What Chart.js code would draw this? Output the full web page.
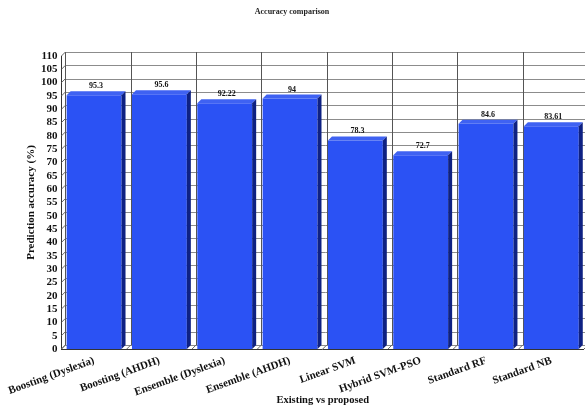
<!DOCTYPE html>
<html>
<head>
<meta charset="utf-8">
<script src="https://cdn.jsdelivr.net/npm/chart.js@4"></script>
<style>
html,body{margin:0;padding:0;background:#fff;}
#wrap{width:585px;height:412px;position:relative;}
</style>
</head>
<body>
<div id="wrap"><canvas id="c" width="585" height="412"></canvas></div>
<script>
const categories = ['Boosting (Dyslexia)','Boosting (AHDH)','Ensemble (Dyslexia)','Ensemble (AHDH)','Linear SVM','Hybrid SVM-PSO','Standard RF','Standard NB'];
const accuracy = [95.3, 95.6, 92.22, 94, 78.3, 72.7, 84.6, 83.61];
const valueLabels = ['95.3','95.6','92.22','94','78.3','72.7','84.6','83.61'];
const yTicks = [0,5,10,15,20,25,30,35,40,45,50,55,60,65,70,75,80,85,90,95,100,105,110];

const D = 4; // depth offset
const FONT = "'Liberation Serif', 'Times New Roman', serif";

const wall3d = {
  id: 'wall3d',
  beforeDatasetsDraw(chart) {
    const ctx = chart.ctx, ca = chart.chartArea;
    const xs = chart.scales.x, ys = chart.scales.y;
    const n = categories.length;
    const cw = (xs.getPixelForValue(1) - xs.getPixelForValue(0));
    ctx.save();
    ctx.lineWidth = 1;
    ctx.strokeStyle = '#8c8c8c';
    yTicks.forEach(v => {
      const py = Math.round(ys.getPixelForValue(v) - D) + 0.5;
      ctx.beginPath();
      ctx.moveTo(ca.left + D, py);
      ctx.lineTo(ca.right + D, py);
      ctx.stroke();
    });
    ctx.strokeStyle = '#555';
    for (let i = 0; i <= n; i++) {
      const bx = Math.round(xs.getPixelForValue(i) - cw / 2 + D) + 0.5;
      ctx.beginPath();
      ctx.moveTo(bx, ca.top - D);
      ctx.lineTo(bx, ca.bottom - D);
      ctx.stroke();
    }
    ctx.strokeStyle = '#666';
    yTicks.forEach(v => {
      const py = ys.getPixelForValue(v);
      ctx.beginPath();
      ctx.moveTo(ca.left, py);
      ctx.lineTo(ca.left + D, py - D);
      ctx.stroke();
    });
    for (let i = 0; i <= n; i++) {
      const bx = xs.getPixelForValue(i) - cw / 2;
      ctx.beginPath();
      ctx.moveTo(bx, ca.bottom);
      ctx.lineTo(bx + D, ca.bottom - D);
      ctx.stroke();
    }
    ctx.strokeStyle = '#333';
    ctx.beginPath();
    ctx.moveTo(ca.left, Math.round(ca.bottom) + 0.5);
    ctx.lineTo(ca.right, Math.round(ca.bottom) + 0.5);
    ctx.stroke();
    ctx.restore();
  },
  afterDatasetsDraw(chart) {
    const ctx = chart.ctx;
    const meta = chart.getDatasetMeta(0);
    ctx.save();
    meta.data.forEach((bar, i) => {
      const w = bar.width, x0 = bar.x - w / 2, x1 = bar.x + w / 2;
      const top = bar.y, base = bar.base;
      ctx.fillStyle = '#3f62f2';
      ctx.beginPath();
      ctx.moveTo(x0, top);
      ctx.lineTo(x0 + D, top - D);
      ctx.lineTo(x1 + D, top - D);
      ctx.lineTo(x1, top);
      ctx.closePath();
      ctx.fill();
      ctx.fillStyle = '#0e2183';
      ctx.beginPath();
      ctx.moveTo(x1, top);
      ctx.lineTo(x1 + D, top - D);
      ctx.lineTo(x1 + D, base - D);
      ctx.lineTo(x1, base);
      ctx.closePath();
      ctx.fill();
      ctx.fillStyle = '#111';
      ctx.font = 'bold 8px ' + FONT;
      ctx.textAlign = 'center';
      ctx.textBaseline = 'bottom';
      ctx.fillText(valueLabels[i], bar.x + D / 2, top - D - 1);
    });
    ctx.restore();
  }
};

new Chart(document.getElementById('c'), {
  type: 'bar',
  data: {
    labels: categories,
    datasets: [{
      data: accuracy,
      backgroundColor: '#2b52f4',
      borderWidth: 0,
      barPercentage: 0.84,
      categoryPercentage: 1.0
    }]
  },
  options: {
    responsive: false,
    animation: false,
    devicePixelRatio: 1,
    layout: { padding: { top: 0, right: 1, left: 0, bottom: 0 } },
    plugins: {
      legend: { display: false },
      tooltip: { enabled: false },
      title: {
        display: true,
        text: 'Accuracy comparison',
        color: '#222',
        font: { family: FONT, size: 8, weight: 'bold' },
        padding: { top: 7, bottom: 39.4 }
      }
    },
    scales: {
      x: {
        grid: { display: false, drawTicks: false },
        border: { display: false },
        ticks: {
          autoSkip: false,
          minRotation: 20,
          maxRotation: 20,
          padding: 5,
          color: '#111',
          font: { family: FONT, size: 11, weight: 'bold' }
        },
        title: {
          display: true,
          text: 'Existing vs proposed',
          color: '#111',
          font: { family: FONT, size: 10.5, weight: 'bold' },
          padding: { top: 0, bottom: 5 }
        },
        afterFit(scale) { scale.height = 63; }
      },
      y: {
        min: 0,
        max: 110,
        afterBuildTicks(scale) { scale.ticks = yTicks.map(v => ({ value: v })); },
        grid: { display: false, drawTicks: false },
        border: { display: true, color: '#333', width: 1 },
        ticks: {
          autoSkip: false,
          padding: 4,
          color: '#111',
          font: { family: FONT, size: 11, weight: 'bold' }
        },
        title: {
          display: true,
          text: 'Prediction accuracy (%)',
          color: '#111',
          font: { family: FONT, size: 11, weight: 'bold' },
          padding: { top: 24, bottom: 0 }
        },
        afterFit(scale) { scale.width = 61; }
      }
    }
  },
  plugins: [wall3d]
});
</script>
</body>
</html>
